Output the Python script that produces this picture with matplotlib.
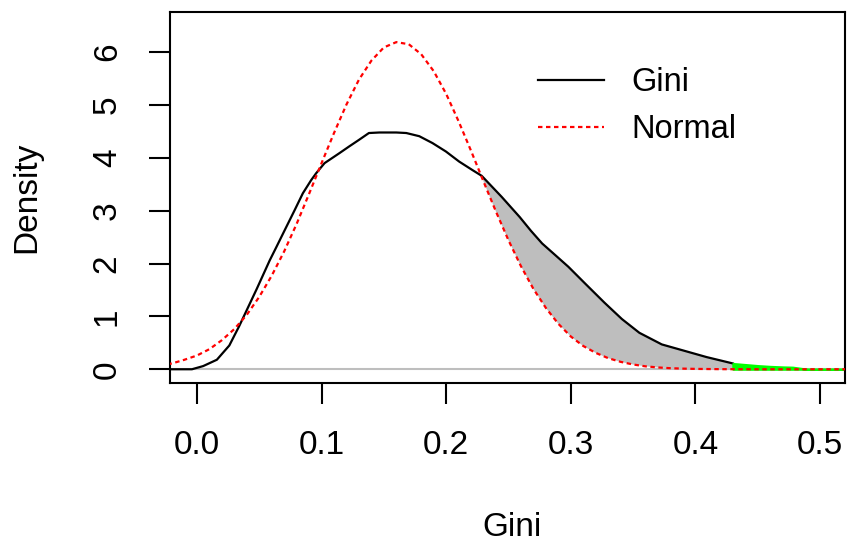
import numpy as np
import matplotlib
matplotlib.use("Agg")
import matplotlib.pyplot as plt

plt.rcParams['font.family'] = ['Liberation Sans', 'DejaVu Sans']

# Kernel density of Gini (black)
gini_x = [-0.03, -0.004, 0.005, 0.016, 0.026, 0.034, 0.040, 0.048, 0.0584, 0.0637,
          0.0704, 0.0784, 0.085, 0.0917, 0.0957, 0.1024, 0.1144, 0.1224, 0.130, 0.138,
          0.1464, 0.160, 0.168, 0.1784, 0.189, 0.1998, 0.2104, 0.221, 0.2285, 0.2446,
          0.259, 0.268, 0.277, 0.288, 0.298, 0.312, 0.327, 0.341, 0.355, 0.373,
          0.391, 0.409, 0.430]
gini_y = [0.0, 0.0, 0.06, 0.18, 0.45, 0.82, 1.12, 1.52, 2.06, 2.31,
          2.63, 3.01, 3.33, 3.58, 3.71, 3.90, 4.09, 4.22, 4.34, 4.47,
          4.48, 4.48, 4.47, 4.41, 4.28, 4.12, 3.93, 3.77, 3.66, 3.26,
          2.88, 2.62, 2.38, 2.15, 1.94, 1.61, 1.26, 0.95, 0.69, 0.47,
          0.35, 0.23, 0.11]

# Normal density (red dotted)
norm_x = [-0.03, -0.02, -0.01, 0.00, 0.01, 0.02, 0.03, 0.04, 0.05, 0.06,
          0.07, 0.08, 0.09, 0.10, 0.11, 0.12, 0.13, 0.14, 0.15, 0.16,
          0.17, 0.18, 0.19, 0.20, 0.21, 0.22, 0.23, 0.24, 0.25, 0.26,
          0.27, 0.28, 0.29, 0.30, 0.31, 0.32, 0.33, 0.34, 0.35, 0.36,
          0.37, 0.38, 0.39, 0.40, 0.42, 0.45, 0.55]
norm_y = [0.07, 0.11, 0.18, 0.26, 0.38, 0.55, 0.76, 1.03, 1.37, 1.77,
          2.23, 2.75, 3.32, 3.90, 4.47, 5.01, 5.48, 5.84, 6.09, 6.19,
          6.15, 5.96, 5.64, 5.21, 4.69, 4.13, 3.55, 2.98, 2.44, 1.95,
          1.52, 1.16, 0.86, 0.62, 0.44, 0.31, 0.21, 0.14, 0.09, 0.055,
          0.034, 0.020, 0.012, 0.007, 0.002, 0.0, 0.0]

# Upper tail of Gini density (green)
tail_x = [0.430, 0.440, 0.450, 0.460, 0.470, 0.478, 0.490, 0.55]
tail_y = [0.11, 0.09, 0.07, 0.055, 0.045, 0.04, 0.0, 0.0]

# Region where Gini exceeds Normal (grey)
cross_lo = 0.2285
cross_hi = 0.430

legend_labels = ["Gini", "Normal"]
xticks = [0.0, 0.1, 0.2, 0.3, 0.4, 0.5]
yticks = [0, 1, 2, 3, 4, 5, 6]

W, H = 847, 544
fig = plt.figure(figsize=(W / 100, H / 100), dpi=100)
ax = fig.add_axes([170 / W, 1 - 383 / H, (845 - 170) / W, (383 - 12) / H])

gx = np.array(gini_x); gy = np.array(gini_y)
nx = np.array(norm_x); ny = np.array(norm_y)

# grey shaded region between curves
mb = (gx >= cross_lo) & (gx <= cross_hi)
mn = (nx > cross_lo) & (nx <= cross_hi)
poly_x = np.concatenate([gx[mb], [cross_hi], nx[mn][::-1]])
poly_y = np.concatenate([gy[mb], [0.0], ny[mn][::-1]])
ax.fill(poly_x, poly_y, color="#BEBEBE", lw=0, zorder=1)

ax.axhline(0, color="#BEBEBE", lw=1.5, zorder=1.5)
ax.plot(gx, gy, color="black", lw=1.6, zorder=2, label=legend_labels[0])
ax.plot(nx, ny, color="red", lw=1.6, ls=(0, (2.0, 1.6)), zorder=3,
        label=legend_labels[1])
ax.fill_between(tail_x, 0, tail_y, color="#00FF00", lw=1.5,
                edgecolor="#00FF00", zorder=2.5)

ax.set_xlim(-0.0216, 0.52)
ax.set_ylim(-0.26, 6.76)
ax.set_xticks(xticks)
ax.set_xticklabels([f"{v:.1f}" for v in xticks])
ax.set_yticks(yticks)
ax.set_yticklabels([str(v) for v in yticks], rotation=90, va="center")
ax.tick_params(axis="both", length=15, width=1.5, labelsize=24, pad=19,
               colors="black")
for s in ax.spines.values():
    s.set_linewidth(1.5)

leg = ax.legend(loc="upper left",
                bbox_to_anchor=((538 - 170) / 675 - 0.019, (383 - 54) / 371),
                frameon=False, fontsize=23.5, handlelength=2.0, handletextpad=0.85,
                labelspacing=0.5, borderaxespad=0)

fig.text(512 / W, 1 - 527 / H, "Gini", ha="center", va="center", fontsize=24)
fig.text(27 / W, 1 - 197 / H, "Density", ha="center", va="center", fontsize=24,
         rotation=90)

fig.savefig("out.png", dpi=100)
